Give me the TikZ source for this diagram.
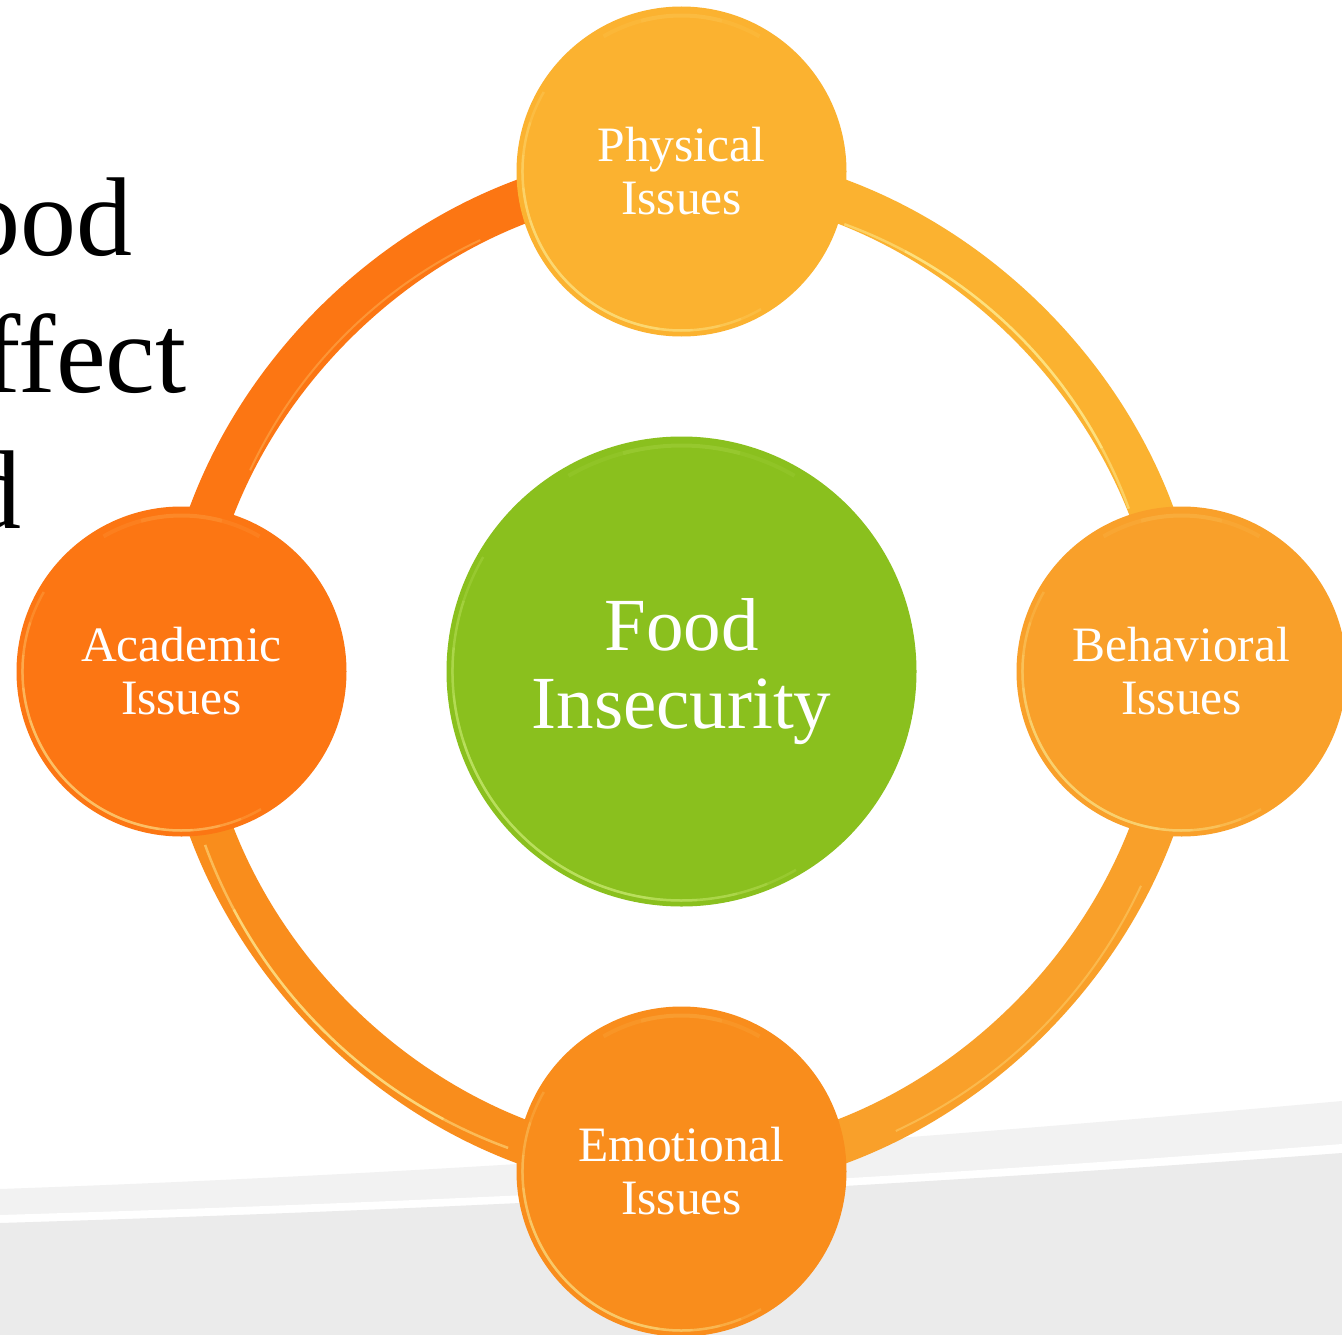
\documentclass[tikz,border=0pt]{standalone}
\usepackage{fontspec}
\setmainfont{Liberation Serif}
\definecolor{acadorange}{HTML}{FC7613}
\definecolor{physorange}{HTML}{FBB230}
\definecolor{behavorange}{HTML}{F9A02A}
\definecolor{emotorange}{HTML}{F98D1C}
\definecolor{coregreen}{HTML}{8AC01E}
\definecolor{bandlight}{HTML}{F2F2F2}
\definecolor{banddark}{HTML}{EBEBEB}
\definecolor{glint}{HTML}{FFF5A0}
\definecolor{greenglint}{HTML}{DDF88C}
\pgfdeclarelayer{backdrop}
\pgfdeclarelayer{ringlayer}
\pgfsetlayers{backdrop,ringlayer,main}

% bevel highlight on the lower-left rim of a disc: #1 node, #2 radius, #3 colour
\newcommand{\rimglow}[3]{%
  \foreach \a/\b in {150/300, 162/292, 174/284, 186/274, 198/262}{
    \draw[#3, line width=2.5, opacity=0.16]
      (#1.center) ++(\a:#2) arc[start angle=\a, end angle=\b, radius=#2];
  }
  \foreach \a/\b in {60/120, 75/105}{
    \draw[#3, line width=4, opacity=0.08]
      (#1.center) ++(\a:#2-3) arc[start angle=\a, end angle=\b, radius=#2-3];
  }
}

\begin{document}
\begin{tikzpicture}[x=1pt, y=1pt,
  issue/.style={circle, minimum size=330, inner sep=0, fill=#1, text=white,
    align=center, font=\fontsize{49.5}{53}\selectfont},
  core/.style={circle, minimum size=470, inner sep=0, fill=coregreen, text=white,
    align=center, font=\fontsize{75}{78}\selectfont},
  link/.style={draw=#1, line width=44},
  headline/.style={anchor=base east, inner sep=0, text=black,
    font=\fontsize{112}{136}\selectfont}
]
\clip (0,0) rectangle (1342,-1335);

\begin{pgfonlayer}{backdrop}
  \fill[white] (0,0) rectangle (1342,-1335);
  % sweeping grey bands along the bottom
  \fill[bandlight] (0,-1189) .. controls (447,-1173.4) and (895,-1141.2) .. (1342,-1101)
    -- (1342,-1335) -- (0,-1335) -- cycle;
  \fill[white] (0,-1215) .. controls (447,-1201.6) and (895,-1179.8) .. (1342,-1144)
    -- (1342,-1335) -- (0,-1335) -- cycle;
  \fill[banddark] (0,-1223) .. controls (447,-1209.6) and (895,-1186.5) .. (1342,-1153)
    -- (1342,-1335) -- (0,-1335) -- cycle;
  % title running off the left edge
  \node[headline] (t1) at (133,-255) {ood};
  \node[headline] (t2) at (187,-392) {ffect};
  \node[headline] (t3) at (22,-528) {d};
\end{pgfonlayer}

% discs
\node[core] (food) at (681.5,-671.5) {Food\\Insecurity};
\node[issue=physorange] (phys) at (681.5,-171.5) {Physical\\Issues};
\node[issue=behavorange] (behav) at (1181.5,-671.5) {Behavioral\\Issues};
\node[issue=emotorange] (emot) at (681.5,-1171.5) {Emotional\\Issues};
\node[issue=acadorange] (acad) at (181.5,-671.5) {Academic\\Issues};

% ring joining the four issues
\begin{pgfonlayer}{ringlayer}
  \draw[link=acadorange] (acad.center) to[out=90, in=180, looseness=0.94] (phys.center);
  \draw[link=physorange] (phys.center) to[out=0, in=90, looseness=0.94] (behav.center);
  \draw[link=behavorange] (behav.center) to[out=-90, in=0, looseness=0.94] (emot.center);
  \draw[link=emotorange] (emot.center) to[out=180, in=-90, looseness=0.94] (acad.center);
  % bevel lines along the ring edges
  \foreach \a/\b in {20/70, 28/62}{
    \draw[glint, line width=2.5, opacity=0.45]
      (food.center) ++(\a:476) arc[start angle=\a, end angle=\b, radius=476];
  }
  \foreach \a/\b in {200/250, 208/242}{
    \draw[glint, line width=2.5, opacity=0.45]
      (food.center) ++(\a:507) arc[start angle=\a, end angle=\b, radius=507];
  }
  \draw[glint, line width=2, opacity=0.3]
    (food.center) ++(295:507) arc[start angle=295, end angle=335, radius=507];
  \draw[glint, line width=2, opacity=0.25]
    (food.center) ++(115:476) arc[start angle=115, end angle=155, radius=476];
\end{pgfonlayer}

\rimglow{phys}{159}{glint}
\rimglow{behav}{159}{glint}
\rimglow{emot}{159}{glint}
\rimglow{acad}{159}{glint}
\rimglow{food}{229}{greenglint}
\end{tikzpicture}
\end{document}
